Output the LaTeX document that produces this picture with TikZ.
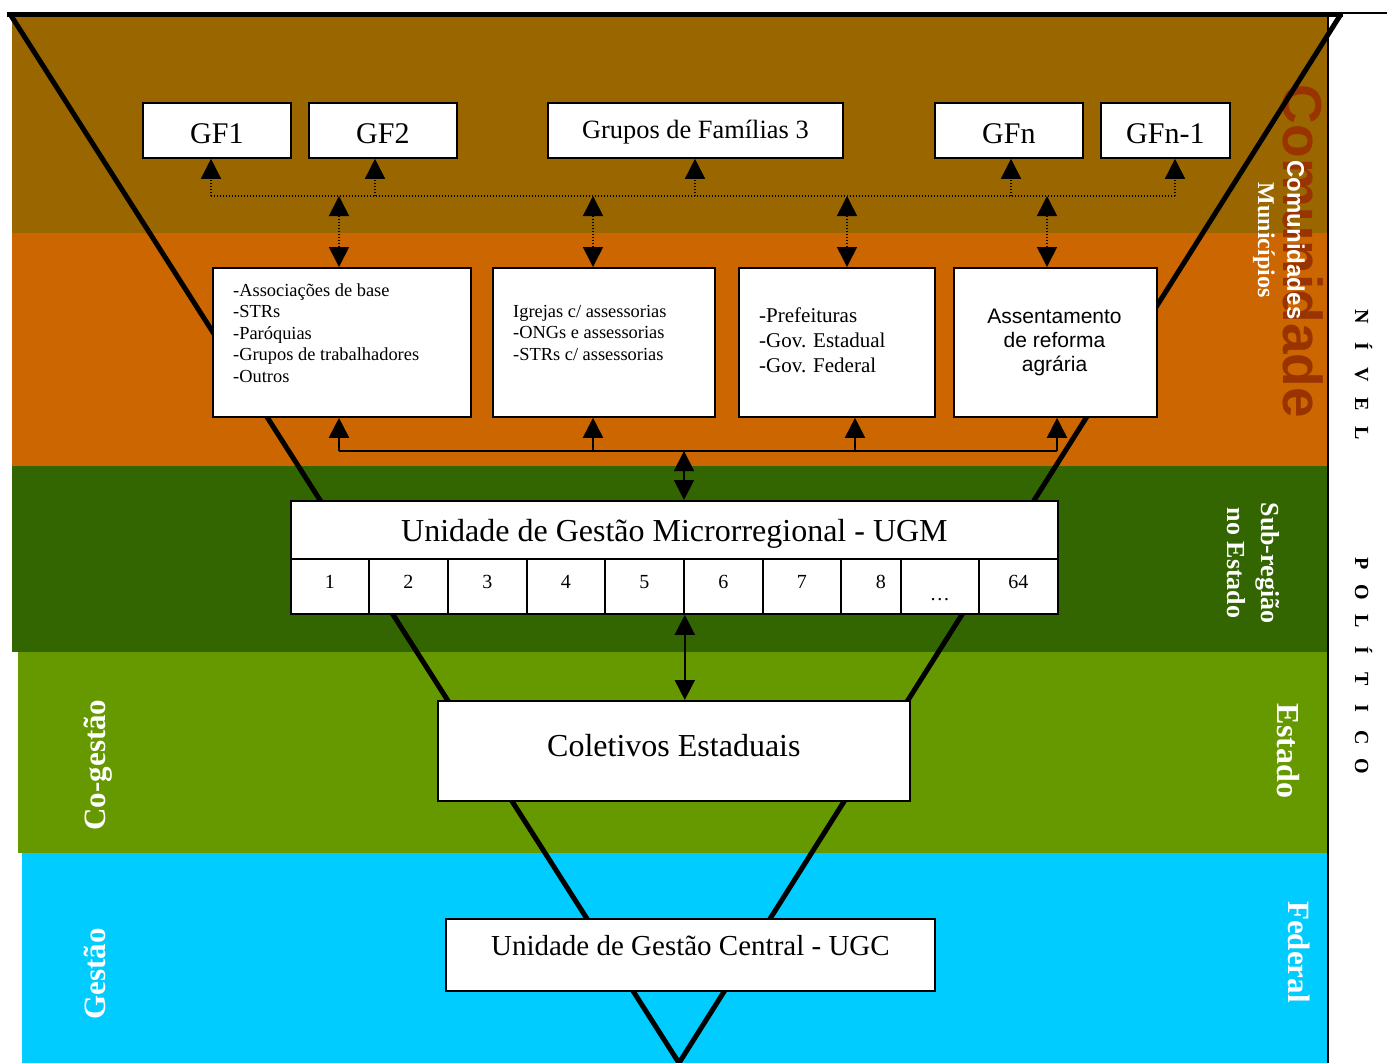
\documentclass[tikz,border=0pt]{standalone}
\usepackage{fontspec}
\setmainfont{Liberation Serif}
\newfontfamily\arialf{Liberation Sans}
\usetikzlibrary{arrows.meta}
\definecolor{cbrown}{HTML}{996600}
\definecolor{corange}{HTML}{CC6600}
\definecolor{cdgreen}{HTML}{336600}
\definecolor{clgreen}{HTML}{669900}
\definecolor{ccyan}{HTML}{00CCFF}
\definecolor{crust}{HTML}{993300}
\newcommand{\myfs}[1]{\fontsize{#1}{#1}\selectfont}
\newcommand{\lsp}[1]{\makebox[29pt]{#1}}
\tikzset{
  tri/.tip={Triangle[width=20pt,length=20pt]},
  box/.style={draw=black, line width=1.8pt, fill=white, inner sep=0pt, anchor=north west, text depth=0pt},
  conn/.style={line width=1.8pt},
  dotl/.style={line width=1.6pt, dash pattern=on 1.4pt off 1.6pt},
  wlab/.style={text=white, inner sep=0pt, text depth=0pt},
  vline/.style={line width=5pt, line join=miter},
}
\begin{document}
\begin{tikzpicture}[x=1pt,y=-1pt]
\useasboundingbox (0,0) rectangle (1387,1063);
% bands
\fill[cbrown]  (12,14)  rectangle (1328,233);
\fill[corange] (12,233) rectangle (1328,466);
\fill[cdgreen] (12,466) rectangle (1328,652);
\fill[clgreen] (18,652) rectangle (1328,853);
\fill[ccyan]   (22,853) rectangle (1328,1063);
% big background word
\node[rotate=-90, inner sep=0pt, text depth=0pt, text=crust, font=\arialf\bfseries\myfs{55}] (bigcom) at (1303,251.5) {Comunidade};
% V shape
\coordinate (vtl) at (7,14);
\coordinate (vtr) at (1343,14);
\coordinate (vl) at (10,14);
\coordinate (vr) at (1341,14);
\coordinate (vap) at (679,1063);
\coordinate (tl1) at (1343,13);
\coordinate (tl2) at (1387,13);
\coordinate (rv1) at (1328,14);
\coordinate (rv2) at (1328,1063);
\draw[line width=1.5pt] (rv1) -- (rv2);
\draw[line width=1.3pt] (tl1) -- (tl2);
\draw[vline] (vl) -- (vap) -- (vr);
\draw[vline] (vtl) -- (vtr);
% top boxes
\node[box, minimum width=148pt, minimum height=55pt, text height=27pt, font=\myfs{30}] (gf1) at (142,102) {GF1};
\node[box, minimum width=148pt, minimum height=55pt, text height=27pt, font=\myfs{30}] (gf2) at (308,102) {GF2};
\node[box, minimum width=295pt, minimum height=55pt, text height=17pt, font=\myfs{26.4}] (gf3) at (547,102) {Grupos de Famílias 3};
\node[box, minimum width=148pt, minimum height=55pt, text height=27pt, font=\myfs{30}] (gfn) at (934,102) {GFn};
\node[box, minimum width=129pt, minimum height=55pt, text height=27pt, font=\myfs{30}] (gfn1) at (1100,102) {GFn-1};
% middle boxes
\node[box, minimum width=258pt, minimum height=149pt] (bxa) at (212,267) {};
\node[box, minimum width=222pt, minimum height=149pt] (bxb) at (492,267) {};
\node[box, minimum width=196pt, minimum height=149pt] (bxc) at (738,267) {};
\node[box, minimum width=203pt, minimum height=149pt] (bxd) at (953,267) {};
\node[anchor=base west, inner sep=0pt] (ta) at (233,296) {\fontsize{18.4}{21.5}\selectfont\begin{tabular}[t]{@{}l@{}}-Associações de base\\-STRs\\-Paróquias\\-Grupos de trabalhadores\\-Outros\end{tabular}};
\node[anchor=base west, inner sep=0pt] (tb) at (513,317) {\fontsize{18.4}{21.5}\selectfont\begin{tabular}[t]{@{}l@{}}Igrejas c/ assessorias\\-ONGs e assessorias\\-STRs c/ assessorias\end{tabular}};
\node[anchor=base west, inner sep=0pt] (tc) at (759,322) {\fontsize{21}{25}\selectfont\begin{tabular}[t]{@{}l@{}}-Prefeituras\\-Gov. Estadual\\-Gov. Federal\end{tabular}};
\node[anchor=base, inner sep=0pt] (td) at (1054.5,323) {\arialf\fontsize{21}{24}\selectfont\begin{tabular}[t]{@{}c@{}}Assentamento\\de reforma\\agrária\end{tabular}};
% UGM
\node[box, minimum width=767pt, minimum height=58pt, text height=23pt, font=\myfs{32}] (ugm) at (290,500) {Unidade de Gestão Microrregional - UGM};
\node[box, minimum width=78pt, minimum height=55pt, text height=5pt, font=\myfs{20}] (c1) at (290,558) {1};
\node[box, minimum width=79pt, minimum height=55pt, text height=5pt, font=\myfs{20}] (c2) at (368,558) {2};
\node[box, minimum width=79pt, minimum height=55pt, text height=5pt, font=\myfs{20}] (c3) at (447,558) {3};
\node[box, minimum width=78pt, minimum height=55pt, text height=5pt, font=\myfs{20}] (c4) at (526,558) {4};
\node[box, minimum width=79pt, minimum height=55pt, text height=5pt, font=\myfs{20}] (c5) at (604,558) {5};
\node[box, minimum width=79pt, minimum height=55pt, text height=5pt, font=\myfs{20}] (c6) at (683,558) {6};
\node[box, minimum width=78pt, minimum height=55pt, text height=5pt, font=\myfs{20}] (c7) at (762,558) {7};
\node[box, minimum width=60pt, minimum height=55pt, text height=5pt, font=\myfs{20}] (c8) at (840,558) {\hspace*{20pt}8};
\node[box, minimum width=78pt, minimum height=55pt, text height=29pt, font=\myfs{20}] (c9) at (900,558) {\dots};
\node[box, minimum width=79pt, minimum height=55pt, text height=5pt, font=\myfs{20}] (c10) at (978,558) {64};
% lower boxes
\node[box, minimum width=472pt, minimum height=100pt, text height=12pt, font=\myfs{32}] (col) at (437,700) {Coletivos Estaduais};
\node[box, minimum width=489pt, minimum height=72pt, text height=2pt, font=\myfs{29}] (ugc) at (445,918) {Unidade de Gestão Central - UGC};
% dotted connectors
\coordinate (d1) at (211,196);
\coordinate (d2) at (375,196);
\coordinate (d3) at (695,196);
\coordinate (d4) at (1011,196);
\coordinate (d5) at (1175,196);
\draw[dotl] (d1) -- (d5);
\draw[dotl, -tri] (d1) -- (d1 |- gf1.south);
\draw[dotl, -tri] (d2) -- (d2 |- gf2.south);
\draw[dotl, -tri] (d3) -- (d3 |- gf3.south);
\draw[dotl, -tri] (d4) -- (d4 |- gfn.south);
\draw[dotl, -tri] (d5) -- (d5 |- gfn1.south);
\coordinate (u1) at (339,196);
\coordinate (u2) at (593,196);
\coordinate (u3) at (847,196);
\coordinate (u4) at (1047,196);
\draw[dotl, tri-tri] (u1) -- (u1 |- bxa.north);
\draw[dotl, tri-tri] (u2) -- (u2 |- bxb.north);
\draw[dotl, tri-tri] (u3) -- (u3 |- bxc.north);
\draw[dotl, tri-tri] (u4) -- (u4 |- bxd.north);
% solid connectors
\coordinate (h1) at (339,451);
\coordinate (h2) at (593,451);
\coordinate (h3) at (855,451);
\coordinate (h4) at (1057,451);
\coordinate (h5) at (684,451);
\draw[conn] (h1) -- (h4);
\draw[conn, -tri] (h1) -- (h1 |- bxa.south);
\draw[conn, -tri] (h2) -- (h2 |- bxb.south);
\draw[conn, -tri] (h3) -- (h3 |- bxc.south);
\draw[conn, -tri] (h4) -- (h4 |- bxd.south);
\draw[conn, tri-tri] (h5) -- (h5 |- ugm.north);
\draw[conn, tri-tri] (c5.south east) -- (c5.south east |- col.north);
% side labels
\node[wlab, rotate=-90, font=\arialf\bfseries\myfs{24}] (lcom) at (1296,240) {Comunidades};
\node[wlab, rotate=-90, font=\bfseries\myfs{24}, text depth=5pt] (lmun) at (1264,240) {Municípios};
\node[wlab, rotate=-90, align=center, font=\bfseries\fontsize{26}{34}\selectfont] (lsub) at (1254,563) {Sub-região\\no Estado};
\node[wlab, rotate=-90, font=\bfseries\myfs{32}] (lest) at (1289,751) {Estado};
\node[wlab, rotate=-90, font=\bfseries\myfs{31}] (lfed) at (1299.5,952) {Federal};
\node[wlab, rotate=90, font=\bfseries\myfs{31}, text depth=6pt] (lcog) at (98,765) {Co-gestão};
\node[wlab, rotate=90, font=\bfseries\myfs{31}] (lges) at (95,974) {Gestão};
\node[rotate=-90, inner sep=0pt, text height=13.5pt, text depth=0pt, font=\bfseries\myfs{20}] (lniv) at (1361.75,375) {\lsp{N}\lsp{Í}\lsp{V}\lsp{E}\lsp{L}};
\node[rotate=-90, inner sep=0pt, text height=13.5pt, text depth=0pt, font=\bfseries\myfs{20}] (lpol) at (1361.75,665) {\lsp{P}\lsp{O}\lsp{L}\lsp{Í}\lsp{T}\lsp{I}\lsp{C}\lsp{O}};
\end{tikzpicture}
\end{document}
